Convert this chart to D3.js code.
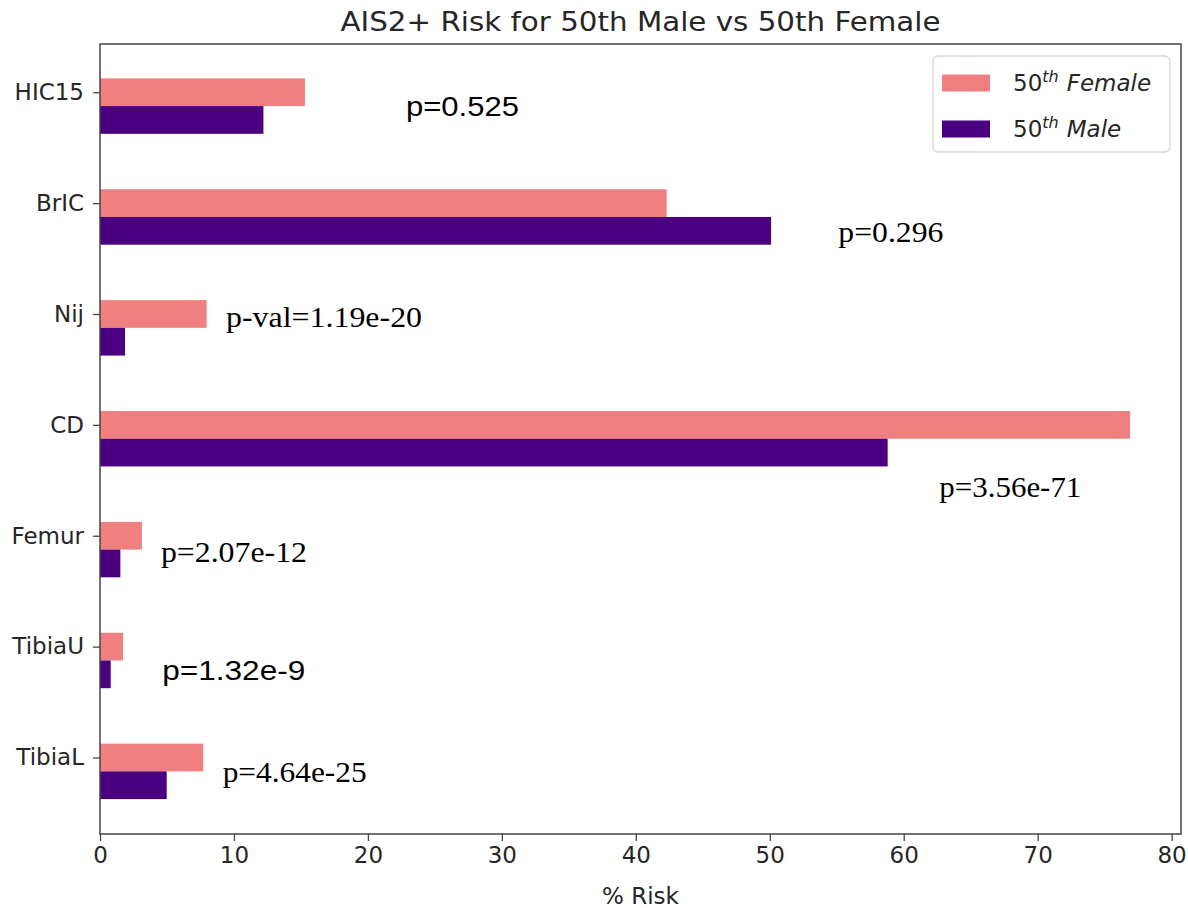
<!DOCTYPE html>
<html>
<head>
<meta charset="utf-8">
<script src="https://cdn.jsdelivr.net/npm/d3@7"></script>
<style>
  html, body { margin: 0; padding: 0; background: #fff; }
  svg { display: block; }
</style>
</head>
<body>
<svg id="chart" width="1188" height="908"></svg>
<script>
// Injury metrics, top to bottom
const categories = ["HIC15", "BrIC", "Nij", "CD", "Femur", "TibiaU", "TibiaL"];
// AIS2+ risk (%) per metric
const femaleRisk = [15.3, 42.3, 7.96, 76.9, 3.13, 1.72, 7.71];
const maleRisk   = [12.2, 50.1, 1.87, 58.8, 1.52, 0.80, 4.98];
// x axis ticks
const xTicks = [0, 10, 20, 30, 40, 50, 60, 70, 80];
// p-value notes beside each metric
const pTexts = ["p=0.525", "p=0.296", "p-val=1.19e-20", "p=3.56e-71", "p=2.07e-12", "p=1.32e-9", "p=4.64e-25"];
const pFonts = ["sans", "serif", "serif", "serif", "serif", "sans", "serif"];

// Placement of the p-value notes in data units (x in %, y in category index)
const pLayout = [
  { x: 22.84, y: 0.214, w: 113 },
  { x: 55.12, y: 1.348, w: 105 },
  { x: 9.41,  y: 2.114, w: 196 },
  { x: 62.66, y: 3.647, w: 142 },
  { x: 4.55,  y: 4.233, w: 146 },
  { x: 4.65,  y: 5.300, w: 143 },
  { x: 9.16,  y: 6.217, w: 144 }
];

const svg = d3.select("#chart");
const plotLeft = 100, plotRight = 1181, plotTop = 44, plotBottom = 834;
const axisColor = "#444";
const textColor = "#262626";
const femaleColor = "#F08080";
const maleColor = "#4B0082";

const x = d3.scaleLinear().domain([0, 80.7]).range([plotLeft, plotRight]);
const y = d3.scaleLinear().domain([-0.435, 6.69]).range([plotTop, plotBottom]);
const barH = 0.25;

// Bars
const g = svg.append("g");
g.selectAll("rect.female").data(femaleRisk).join("rect")
  .attr("class", "female")
  .attr("x", x(0))
  .attr("y", (d, i) => y(i - barH / 2))
  .attr("width", d => x(d) - x(0))
  .attr("height", (d, i) => y(i + barH / 2) - y(i - barH / 2))
  .attr("fill", femaleColor);

g.selectAll("rect.male").data(maleRisk).join("rect")
  .attr("class", "male")
  .attr("x", x(0))
  .attr("y", (d, i) => y(i + barH / 2))
  .attr("width", d => x(d) - x(0))
  .attr("height", (d, i) => y(i + 1.5 * barH) - y(i + barH / 2))
  .attr("fill", maleColor);

// Frame
svg.append("rect")
  .attr("x", plotLeft).attr("y", plotTop)
  .attr("width", plotRight - plotLeft).attr("height", plotBottom - plotTop)
  .attr("fill", "none").attr("stroke", axisColor).attr("stroke-width", 1.5);

// X axis
const xAxis = svg.append("g")
  .attr("transform", `translate(0,${plotBottom})`)
  .call(d3.axisBottom(x).tickValues(xTicks).tickSize(7).tickPadding(6).tickFormat(d3.format("d")));
xAxis.select(".domain").remove();
xAxis.selectAll("line").attr("stroke", axisColor).attr("stroke-width", 1.3);
xAxis.selectAll("text")
  .attr("font-family", "DejaVu Sans").attr("font-size", 23).attr("fill", textColor);

// Y axis
const yAxis = svg.append("g")
  .attr("transform", `translate(${plotLeft},0)`)
  .call(d3.axisLeft(y).tickValues(d3.range(categories.length)).tickSize(7).tickPadding(9)
    .tickFormat(i => categories[i]));
yAxis.select(".domain").remove();
yAxis.selectAll("line").attr("stroke", axisColor).attr("stroke-width", 1.3);
yAxis.selectAll("text")
  .attr("font-family", "DejaVu Sans").attr("font-size", 23).attr("fill", textColor);

// Title and axis label
svg.append("text")
  .attr("x", (plotLeft + plotRight) / 2).attr("y", 31)
  .attr("text-anchor", "middle")
  .attr("font-family", "DejaVu Sans").attr("font-size", 26).attr("fill", textColor)
  .attr("textLength", 600).attr("lengthAdjust", "spacingAndGlyphs")
  .text("AIS2+ Risk for 50th Male vs 50th Female");

svg.append("text")
  .attr("x", (plotLeft + plotRight) / 2).attr("y", 904)
  .attr("text-anchor", "middle")
  .attr("font-family", "DejaVu Sans").attr("font-size", 23).attr("fill", textColor)
  .text("% Risk");

// p-value notes
svg.selectAll("text.pval").data(pTexts).join("text")
  .attr("class", "pval")
  .attr("x", (d, i) => x(pLayout[i].x))
  .attr("y", (d, i) => y(pLayout[i].y))
  .attr("font-family", (d, i) => pFonts[i] === "sans" ? "Liberation Sans, Arial, sans-serif" : "Liberation Serif, Times New Roman, serif")
  .attr("font-size", (d, i) => pFonts[i] === "sans" ? 28 : 29)
  .attr("textLength", (d, i) => pLayout[i].w)
  .attr("lengthAdjust", "spacingAndGlyphs")
  .attr("fill", "#000")
  .text(d => d);

// Legend
const legend = svg.append("g");
legend.append("rect")
  .attr("x", 933).attr("y", 56).attr("width", 237).attr("height", 96)
  .attr("rx", 5).attr("fill", "#fff").attr("fill-opacity", 0.8)
  .attr("stroke", "#d5d5d5").attr("stroke-width", 1.3);

const legendItems = [
  { color: femaleColor, word: "Female" },
  { color: maleColor, word: "Male" }
];
legendItems.forEach((item, k) => {
  const cy = 83 + k * 46;
  legend.append("rect")
    .attr("x", 942).attr("y", cy - 8.5).attr("width", 48).attr("height", 17)
    .attr("fill", item.color);
  const t = legend.append("text")
    .attr("x", 1013).attr("y", cy + 8)
    .attr("font-family", "DejaVu Sans").attr("font-size", 23).attr("fill", textColor);
  t.append("tspan").text("50");
  t.append("tspan").attr("dy", -9).attr("font-size", 16).attr("font-style", "italic").text("th");
  t.append("tspan").attr("dy", 9).attr("dx", 8).attr("font-style", "italic").text(item.word);
});
</script>
</body>
</html>
